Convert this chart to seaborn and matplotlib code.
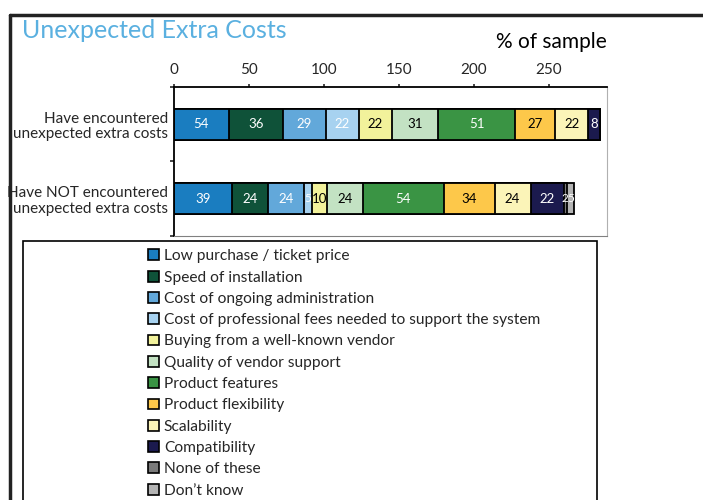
import numpy as np
import pandas as pd
import matplotlib
matplotlib.use('Agg')
import matplotlib.pyplot as plt
import matplotlib.patches as mpatches
import seaborn as sns

groups = ['Have encountered\nunexpected extra costs',
          'Have NOT encountered\nunexpected extra costs']
factors = ['Low purchase / ticket price', 'Speed of installation',
           'Cost of ongoing administration',
           'Cost of professional fees needed to support the system',
           'Buying from a well-known vendor', 'Quality of vendor support',
           'Product features', 'Product flexibility', 'Scalability',
           'Compatibility', 'None of these', "Don\u2019t know"]
colors = ['#1a7dc0', '#0f5239', '#62a8da', '#a7d2f0', '#f2f29b', '#c3e2c3',
          '#3a9444', '#fdc84a', '#fbf4b8', '#1b1a4e', '#7a7a7a', '#b4b4b4']

# bar widths as drawn (% of sample)
encountered = [36.5, 36, 29, 22, 22, 31, 51, 27, 22, 8, 0, 0]
not_encountered = [39, 24, 24, 5, 10, 24, 54, 34, 24, 22, 2, 5]
# value labels as printed on the chart
enc_labels = ['54', '36', '29', '22', '22', '31', '51', '27', '22', '8', '', '']
not_labels = ['39', '24', '24', '5', '10', '24', '54', '34', '24', '22', '2', '5']
text_colors = ['white', 'white', 'white', 'white', 'black', 'black',
               'white', 'black', 'black', 'white', 'white', 'white']

df = pd.DataFrame({'group': np.repeat(groups, len(factors)),
                   'factor': factors * 2,
                   'value': encountered + not_encountered,
                   'label': enc_labels + not_labels})
df['cum'] = df.groupby('group', sort=False)['value'].cumsum()

sns.set_style('white')
plt.rcParams['font.family'] = ['Lato', 'DejaVu Sans']

fig = plt.figure(figsize=(7.03, 5.0), dpi=100)
ax = fig.add_axes([174 / 703, 1 - 236 / 500, 433 / 703, 149 / 500])

# stacked bars: draw cumulative totals from the last factor backwards
for i in range(len(factors) - 1, -1, -1):
    sub = df[df['factor'] == factors[i]]
    sns.barplot(data=sub, x='cum', y='group', orient='h', color=colors[i],
                width=0.42, edgecolor='black', linewidth=1.3,
                errorbar=None, ax=ax, saturation=1)

for i, f in enumerate(factors):
    sub = df[df['factor'] == f]
    for yi, (_, row) in enumerate(sub.iterrows()):
        if row['label'] == '':
            continue
        small = row['value'] < 8
        ax.text(row['cum'] - row['value'] / 2, yi, row['label'],
                ha='center', va='center', fontsize=8.5 if small else 9.5,
                color=text_colors[i])

ax.set_xlim(0, 289)
ax.set_ylim(1.5, -0.5)
ax.xaxis.tick_top()
ax.set_xticks([0, 50, 100, 150, 200, 250])
ax.tick_params(axis='x', top=True, length=2.5, width=1.2, pad=5, labelsize=11)
ax.set_yticks([0, 1])
ax.set_yticklabels(groups, fontsize=11, linespacing=1.15)
ax.tick_params(axis='y', length=0, pad=4)
ax.set_yticks([-0.5, 0.5, 1.5], minor=True)
ax.tick_params(axis='y', which='minor', left=True, length=3, width=1.2)
ax.set_xlabel('')
ax.set_ylabel('')
ax.spines['left'].set_color('black')
ax.spines['top'].set_color('black')
ax.spines['left'].set_linewidth(1.3)
ax.spines['top'].set_linewidth(1.3)
ax.spines['right'].set_color('#b0b0b0')
ax.spines['bottom'].set_color('#808080')

fig.text(22 / 703, 1 - 31 / 500, 'Unexpected Extra Costs', color='#5ab0e0',
         fontsize=18, va='center', ha='left')
fig.text(607 / 703, 1 - 42 / 500, '% of sample', color='black',
         fontsize=15, va='center', ha='right')

# outer frame lines
fig.add_artist(plt.Line2D([10 / 703, 10 / 703], [0, 1 - 15 / 500],
                          color='#222222', lw=2.5))
fig.add_artist(plt.Line2D([10 / 703, 1], [1 - 15 / 500, 1 - 15 / 500],
                          color='#222222', lw=2.5))

# legend box
fig.add_artist(mpatches.Rectangle((23 / 703, -0.05), 574 / 703, 0.05 + 1 - 241 / 500,
                                  transform=fig.transFigure, fill=False,
                                  edgecolor='black', lw=1.2))
handles = [mpatches.Patch(facecolor=c, edgecolor='black', lw=1.2) for c in colors]
fig.legend(handles, factors, loc='upper left',
           bbox_to_anchor=(142 / 703, 1 - 243 / 500), frameon=False,
           fontsize=11.2, handlelength=0.7, handleheight=0.7,
           handletextpad=0.3, labelspacing=0.47, borderaxespad=0)

plt.savefig('out.png', dpi=100)
plt.close()
